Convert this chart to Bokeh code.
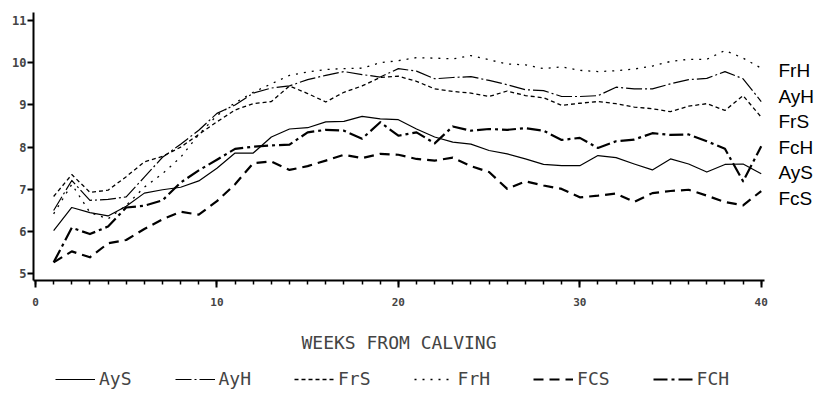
from bokeh.plotting import figure
from bokeh.layouts import column
from bokeh.models import (SingleIntervalTicker, FixedTicker, Legend, LegendItem,
                          LinearAxis, Range1d)
from bokeh.embed import file_html
from bokeh.resources import INLINE

weeks = list(range(1, 41))

AyS = [6.02, 6.57, 6.45, 6.37, 6.60, 6.91, 6.99, 7.05, 7.20, 7.50,
       7.86, 7.86, 8.24, 8.43, 8.46, 8.60, 8.61, 8.73, 8.67, 8.65,
       8.43, 8.24, 8.12, 8.07, 7.92, 7.84, 7.72, 7.59, 7.56, 7.56,
       7.80, 7.75, 7.60, 7.46, 7.72, 7.60, 7.41, 7.59, 7.60, 7.37]

AyH = [6.50, 7.21, 6.74, 6.76, 6.82, 7.29, 7.76, 8.07, 8.40, 8.80,
       9.00, 9.28, 9.40, 9.45, 9.60, 9.70, 9.79, 9.72, 9.66, 9.86,
       9.80, 9.62, 9.65, 9.67, 9.58, 9.48, 9.36, 9.34, 9.20, 9.20,
       9.22, 9.42, 9.38, 9.38, 9.50, 9.60, 9.63, 9.79, 9.62, 9.08]

FrS = [6.83, 7.35, 6.93, 6.98, 7.30, 7.65, 7.78, 8.00, 8.30, 8.60,
       8.88, 9.03, 9.08, 9.45, 9.27, 9.07, 9.30, 9.45, 9.65, 9.68,
       9.56, 9.38, 9.32, 9.28, 9.20, 9.33, 9.22, 9.17, 8.99, 9.04,
       9.08, 9.03, 8.95, 8.91, 8.84, 8.97, 9.03, 8.87, 9.22, 8.71]

FrH = [6.42, 7.12, 6.45, 6.30, 6.62, 7.05, 7.37, 7.76, 8.30, 8.75,
       9.05, 9.30, 9.50, 9.70, 9.78, 9.84, 9.86, 9.87, 10.00, 10.05,
       10.12, 10.11, 10.09, 10.17, 10.07, 9.97, 9.95, 9.86, 9.90, 9.82,
       9.79, 9.81, 9.85, 9.92, 10.03, 10.08, 10.08, 10.29, 10.11, 9.87]

FcS = [5.27, 5.53, 5.39, 5.72, 5.80, 6.06, 6.29, 6.47, 6.40, 6.72,
       7.12, 7.62, 7.66, 7.46, 7.55, 7.68, 7.82, 7.74, 7.84, 7.82,
       7.72, 7.68, 7.75, 7.55, 7.41, 7.01, 7.19, 7.09, 7.01, 6.81,
       6.85, 6.90, 6.70, 6.91, 6.96, 6.99, 6.85, 6.70, 6.62, 6.96]

FcH = [5.27, 6.09, 5.94, 6.12, 6.57, 6.61, 6.74, 7.16, 7.45, 7.70,
       7.96, 8.01, 8.04, 8.06, 8.35, 8.41, 8.39, 8.20, 8.59, 8.27,
       8.35, 8.09, 8.49, 8.39, 8.43, 8.41, 8.45, 8.39, 8.17, 8.22,
       7.98, 8.14, 8.18, 8.33, 8.29, 8.30, 8.14, 7.96, 7.19, 8.02]

legend_names = ["AyS", "AyH", "FrS", "FrH", "FCS", "FCH"]
end_names = ["FrH", "AyH", "FrS", "FcH", "AyS", "FcS"]

styles = [
    dict(line_width=1.2, line_dash="solid"),
    dict(line_width=1.2, line_dash="16 3 2 3"),
    dict(line_width=1.3, line_dash="4 3"),
    dict(line_width=1.3, line_dash="2 6"),
    dict(line_width=2.2, line_dash="10 6"),
    dict(line_width=2.2, line_dash="14 4 3 4"),
]
series = [AyS, AyH, FrS, FrH, FcS, FcH]

# ---------------- main chart ----------------
p = figure(width=817, height=360, output_backend="svg", toolbar_location=None,
           title=None, x_range=(-0.11, 40.18), y_range=(4.84, 11.19),
           min_border_left=33, min_border_right=52, min_border_top=12,
           min_border_bottom=80)
p.outline_line_color = None
p.background_fill_color = "white"
p.border_fill_color = "white"
p.xgrid.visible = False
p.ygrid.visible = False

for ys, st in zip(series, styles):
    p.line(weeks, ys, line_color="black", line_cap="butt", line_join="round", **st)

xa = p.xaxis[0]
xa.ticker = SingleIntervalTicker(interval=10, num_minor_ticks=10)
xa.axis_line_width = 2
xa.major_tick_line_width = 2
xa.minor_tick_line_width = 1.5
xa.major_tick_in = 0
xa.major_tick_out = 7
xa.minor_tick_in = 0
xa.minor_tick_out = 4
xa.major_label_standoff = 10
xa.major_label_text_font = "DejaVu Sans Mono"
xa.major_label_text_font_style = "bold"
xa.major_label_text_font_size = "11px"
xa.axis_label = "WEEKS FROM CALVING"
xa.axis_label_text_font = "DejaVu Sans Mono"
xa.axis_label_text_font_style = "normal"
xa.axis_label_text_font_size = "18px"
xa.axis_label_standoff = 23

ya = p.yaxis[0]
ya.ticker = SingleIntervalTicker(interval=1, num_minor_ticks=0)
ya.axis_line_width = 2
ya.major_tick_line_width = 2
ya.major_tick_in = 0
ya.major_tick_out = 6
ya.minor_tick_out = 0
ya.minor_tick_in = 0
ya.major_label_standoff = 1
ya.major_label_text_font = "DejaVu Sans Mono"
ya.major_label_text_font_style = "bold"
ya.major_label_text_font_size = "12px"

# series names at the right end (a right-hand axis carrying only the names)
label_top = 9.815
label_step = 0.605
name_pos = [round(label_top - i * label_step, 3) for i in range(len(end_names))]
ra = LinearAxis(ticker=FixedTicker(ticks=name_pos),
                major_label_overrides={v: n for v, n in zip(name_pos, end_names)})
ra.axis_line_color = None
ra.major_tick_line_color = None
ra.minor_tick_line_color = None
ra.major_tick_out = 0
ra.major_tick_in = 0
ra.minor_tick_out = 0
ra.minor_tick_in = 0
ra.major_label_standoff = 14
ra.major_label_text_font = "Liberation Sans"
ra.major_label_text_font_size = "19px"
ra.major_label_text_color = "black"
p.add_layout(ra, "right")

# ---------------- legend strip ----------------
# the strip's view lies away from the data, so only the legend samples show
q = figure(width=817, height=33, output_backend="svg", toolbar_location=None,
           title=None, x_axis_type=None, y_axis_type=None, min_border=0,
           x_range=Range1d(0, 1), y_range=Range1d(-2, -1))
q.outline_line_color = None
q.background_fill_color = "white"
q.border_fill_color = "white"
proxies = []
for ys, st in zip(series, styles):
    proxies.append(q.line(weeks, ys, line_color="black", line_cap="butt", **st))

items = [LegendItem(label=n, renderers=[r]) for n, r in zip(legend_names, proxies)]
legend = Legend(items=items, orientation="horizontal", location=(22, 4),
                glyph_width=40, glyph_height=14, label_height=14,
                label_standoff=4, spacing=43, padding=0, margin=0,
                label_text_font="DejaVu Sans Mono", label_text_font_size="18px",
                background_fill_alpha=0, border_line_alpha=0)
q.add_layout(legend, "center")

layout = column(p, q, spacing=0)
open("out.html", "w").write(file_html(layout, INLINE))
